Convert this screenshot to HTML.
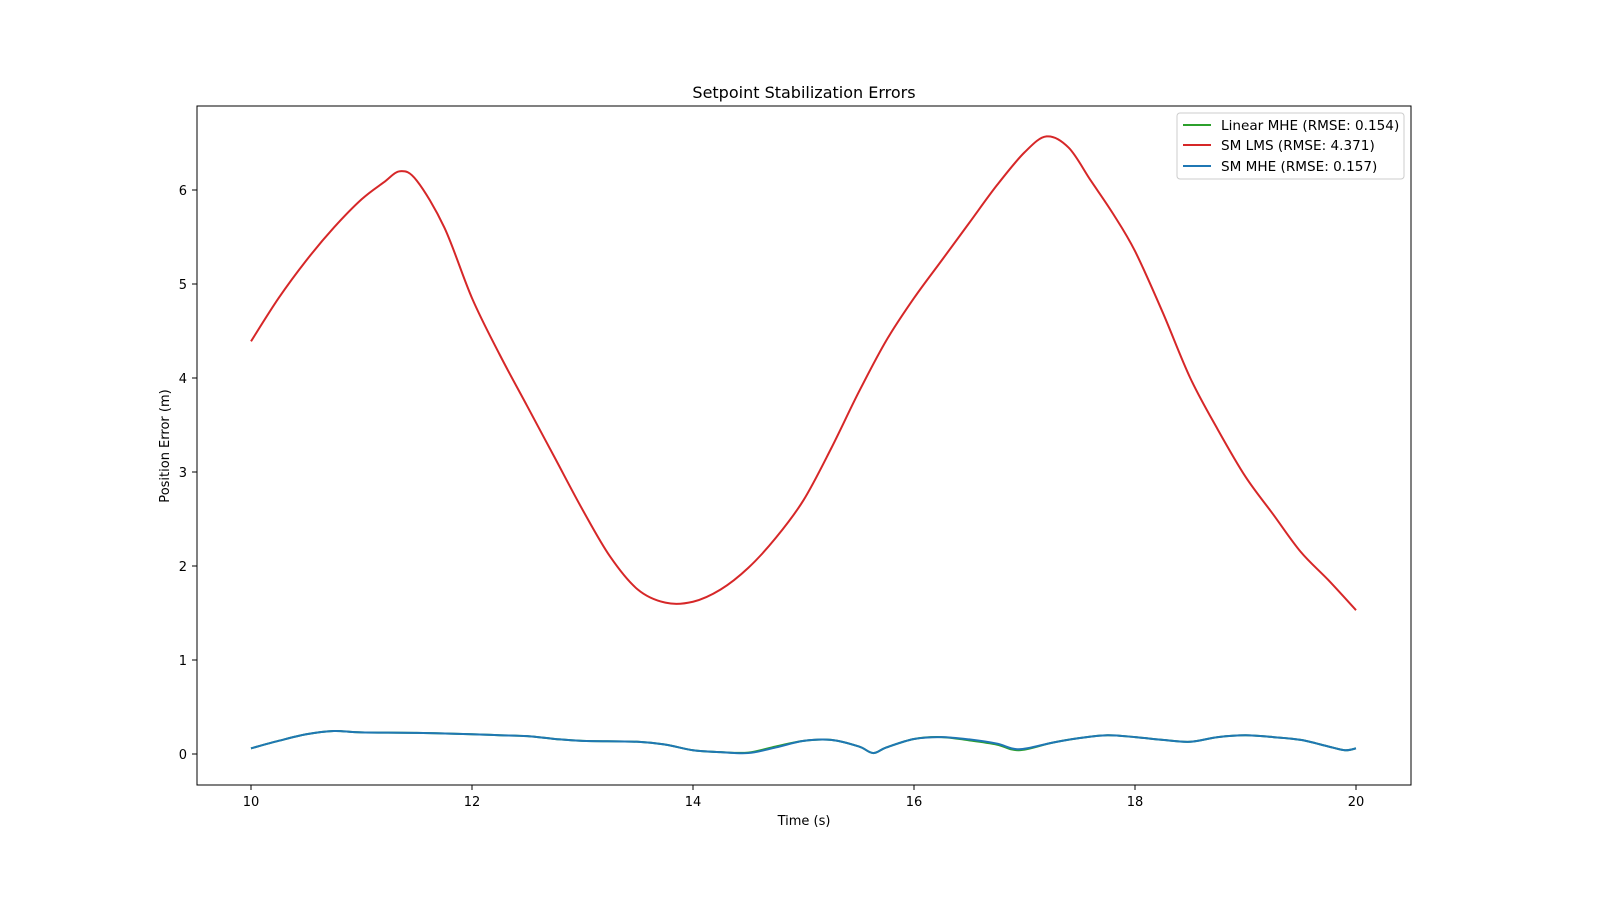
<!DOCTYPE html>
<html><head><meta charset="utf-8"><style>
body{margin:0;background:#fff;font-family:"Liberation Sans","DejaVu Sans",sans-serif;overflow:hidden}
svg text{font-family:"DejaVu Sans","Liberation Sans",sans-serif;fill:#000}
</style></head><body>
<svg id="chart" width="1600" height="900" xmlns="http://www.w3.org/2000/svg">
<rect x="0" y="0" width="1600" height="900" fill="#fff"/>
<text x="804" y="98" font-size="16" text-anchor="middle">Setpoint Stabilization Errors</text>
<g id="xticks"></g><g id="yticks"></g>
<g id="series"></g>
<rect x="197" y="106" width="1214" height="679" fill="none" stroke="#000" stroke-width="1"/>
<text x="804" y="825" font-size="13" text-anchor="middle">Time (s)</text>
<text x="0" y="0" font-size="13" text-anchor="middle" transform="translate(169,446) rotate(-90)">Position Error (m)</text>
<g>
<rect x="1177" y="113" width="227" height="66" fill="#fff" stroke="#ccc" rx="3"/>
<line x1="1183" y1="125" x2="1211" y2="125" stroke="#2ca02c" stroke-width="2"/>
<text x="1221" y="130" font-size="13.6">Linear MHE (RMSE: 0.154)</text>
<line x1="1183" y1="145" x2="1211" y2="145" stroke="#d62728" stroke-width="2"/>
<text x="1221" y="150" font-size="13.6">SM LMS (RMSE: 4.371)</text>
<line x1="1183" y1="166" x2="1211" y2="166" stroke="#1f77b4" stroke-width="2"/>
<text x="1221" y="171" font-size="13.6">SM MHE (RMSE: 0.157)</text>
</g>
</svg>
<script>
const lmsT=[10,10.25,10.5,10.75,11,11.2,11.35,11.5,11.75,12,12.25,12.5,12.75,13,13.25,13.5,13.75,14,14.25,14.5,14.75,15,15.25,15.5,15.75,16,16.25,16.5,16.75,17,17.2,17.4,17.6,17.8,18,18.25,18.5,18.75,19,19.25,19.5,19.75,20];
const lmsV=[4.39,4.85,5.25,5.6,5.9,6.08,6.2,6.1,5.6,4.85,4.25,3.7,3.15,2.6,2.1,1.75,1.61,1.62,1.75,1.98,2.3,2.7,3.25,3.85,4.4,4.85,5.25,5.65,6.05,6.4,6.57,6.45,6.1,5.75,5.35,4.7,4.0,3.45,2.95,2.55,2.15,1.85,1.53];
const mheT=[10,10.25,10.5,10.75,11,11.5,12,12.25,12.5,12.75,13,13.5,13.75,14,14.25,14.5,14.75,15,15.25,15.5,15.63,15.75,16,16.25,16.5,16.75,16.95,17.25,17.5,17.75,18,18.25,18.5,18.75,19,19.25,19.5,19.75,19.9,20];
const smMheV=[0.06,0.14,0.21,0.245,0.23,0.225,0.21,0.2,0.19,0.16,0.14,0.13,0.1,0.04,0.02,0.01,0.07,0.14,0.15,0.08,0.01,0.07,0.16,0.18,0.155,0.11,0.05,0.12,0.17,0.2,0.18,0.15,0.13,0.18,0.2,0.18,0.15,0.08,0.04,0.06];
const linMheV=[0.06,0.14,0.21,0.245,0.23,0.225,0.21,0.2,0.19,0.16,0.14,0.13,0.1,0.04,0.02,0.015,0.08,0.14,0.15,0.08,0.01,0.07,0.16,0.18,0.145,0.1,0.04,0.12,0.17,0.2,0.18,0.15,0.13,0.18,0.2,0.18,0.15,0.08,0.04,0.06];
const xTicks=[10,12,14,16,18,20];
const yTicks=[0,1,2,3,4,5,6];
const NS="http://www.w3.org/2000/svg";
const xs=t=>251+(t-10)*110.5;
const ys=v=>754-v*94;
function mk(tag,attrs,parent){const e=document.createElementNS(NS,tag);for(const k in attrs)e.setAttribute(k,attrs[k]);parent.appendChild(e);return e;}
const xg=document.getElementById('xticks'),yg=document.getElementById('yticks'),sg=document.getElementById('series');
xTicks.forEach(t=>{const x=xs(t);
 const l=mk('line',{x1:x,x2:x,y1:785,y2:790,stroke:'#000'},xg);
 
 
 const tx=mk('text',{x:x,y:806,'font-size':13,'text-anchor':'middle'},xg);tx.textContent=t;
 
 });
yTicks.forEach(v=>{const y=ys(v);
 const l=mk('line',{x1:192,x2:197,y1:y,y2:y,stroke:'#000'},yg);
 
 
 const tx=mk('text',{x:187,y:y+5,'font-size':13,'text-anchor':'end'},yg);tx.textContent=v;
 
 });
function smooth(T,V){const p=T.map((t,i)=>[xs(t),ys(V[i])]);let d='M'+p[0][0]+','+p[0][1];
 for(let i=0;i<p.length-1;i++){const p0=p[i-1]||p[i],p1=p[i],p2=p[i+1],p3=p[i+2]||p2;
 const c1=[p1[0]+(p2[0]-p0[0])/6,p1[1]+(p2[1]-p0[1])/6],c2=[p2[0]-(p3[0]-p1[0])/6,p2[1]-(p3[1]-p1[1])/6];
 d+=' C'+c1[0]+','+c1[1]+' '+c2[0]+','+c2[1]+' '+p2[0]+','+p2[1];}return d;}
const a=mk('path',{d:smooth(mheT,linMheV),fill:'none',stroke:'#2ca02c','stroke-width':2},sg);


const b=mk('path',{d:smooth(lmsT,lmsV),fill:'none',stroke:'#d62728','stroke-width':2},sg);


const c=mk('path',{d:smooth(mheT,smMheV),fill:'none',stroke:'#1f77b4','stroke-width':2},sg);


</script>
</body></html>
